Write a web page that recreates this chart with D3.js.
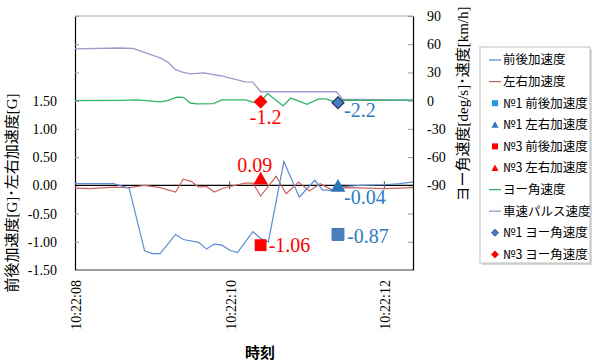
<!DOCTYPE html>
<html>
<head>
<meta charset="utf-8">
<script src="https://cdn.jsdelivr.net/npm/d3@7"></script>
<style>
  html, body { margin: 0; padding: 0; background: #ffffff; }
  svg { display: block; }
</style>
</head>
<body>
<svg id="chart" width="592" height="362"></svg>
<script>
// ---- data (time offsets are seconds after 10:22:08) ----
const startTime = "10:22:08";
const xTickLabels = ["10:22:08", "10:22:10", "10:22:12"];
const xEndSeconds = 4.37;

const leftTicks = [-1.5, -1.0, -0.5, 0.0, 0.5, 1.0, 1.5, 2.0, 2.5, 3.0];
const leftLabelMax = 1.5;
const rightTicks = [-180, -150, -120, -90, -60, -30, 0, 30, 60, 90];
const rightLabelMin = -90;

// 前後加速度 [G]
const accelLongT = [0.0, 0.5, 0.7, 0.9, 1.0, 1.1, 1.3, 1.4, 1.6, 1.7, 1.8, 1.9, 2.0, 2.1, 2.3, 2.4, 2.5, 2.7, 2.9, 3.1, 3.2, 3.3, 3.4, 3.5, 3.7, 4.0, 4.2, 4.37];
const accelLongV = [0.03, 0.03, -0.05, -1.16, -1.21, -1.21, -0.87, -0.96, -1.01, -1.13, -1.04, -1.06, -1.15, -1.19, -0.82, -0.94, -1.00, 0.42, -0.21, 0.09, -0.08, -0.09, -0.04, -0.02, 0.00, 0.01, 0.03, 0.06];

// 左右加速度 [G]
const accelLatT = [0.0, 0.2, 0.5, 0.7, 0.9, 1.1, 1.3, 1.4, 1.5, 1.6, 1.7, 1.8, 1.9, 2.0, 2.2, 2.3, 2.4, 2.6, 2.73, 2.89, 3.03, 3.17, 3.32, 3.5, 4.0, 4.37];
const accelLatV = [-0.05, -0.06, -0.03, -0.04, 0.0, -0.04, -0.12, 0.11, 0.07, -0.03, -0.02, -0.12, -0.06, -0.02, 0.04, 0.04, -0.19, 0.16, -0.15, 0.06, -0.10, 0.03, -0.08, -0.04, -0.06, -0.04];

// ヨー角速度 [deg/s]
const yawT = [0.0, 0.58, 0.8, 1.1, 1.2, 1.32, 1.4, 1.49, 1.58, 1.79, 1.9, 2.2, 2.31, 2.4, 2.49, 2.69, 2.79, 3.0, 3.15, 3.24, 3.4, 3.47, 3.95, 4.37];
const yawV = [0.0, 0.3, 0.8, -1.2, 0.0, 3.8, 3.6, -2.5, -3.4, -3.2, 0.8, 0.8, -1.8, -1.2, 7.5, -5.5, 2.8, -3.9, 1.8, 1.8, -2.2, 0.5, 0.3, 0.5];

// 車速パルス速度 [km/h]
const speedT = [0.0, 0.58, 0.75, 1.1, 1.2, 1.3, 1.38, 1.49, 1.66, 1.88, 2.2, 2.3, 2.4, 3.38, 3.46, 4.37];
const speedV = [55, 56, 55.5, 45.5, 41, 33, 30.5, 28.4, 29.5, 26.5, 20, 19.8, 9.5, 9.5, 1.5, 0.5];

// single-point measurements from units №1 and №3
const pointT = { no1: 3.4, no3: 2.4 };
const no1AccelLong = -0.87, no1AccelLat = -0.04, no1Yaw = -2.2;
const no3AccelLong = -1.06, no3AccelLat = 0.09, no3Yaw = -1.2;

const legendNames = ["前後加速度", "左右加速度", "№1 前後加速度", "№1 左右加速度", "№3 前後加速度", "№3 左右加速度", "ヨー角速度", "車速パルス速度", "№1 ヨー角速度", "№3 ヨー角速度"];

// ---- layout ----
const M = { left: 75, right: 413, top: 16, bottom: 270 };
const serif = "Liberation Serif, Times New Roman, DejaVu Serif, serif, Noto Sans CJK JP";
const gothic = "Noto Sans CJK JP, Noto Sans, sans-serif";
const C = {
  blue: "#5b8bd0", red: "#c86462", green: "#2fb468", purple: "#a596cb",
  redMark: "#ff0000", blueLabel: "#2e7bc4", blueMark: "#4a7ec0", blueTri: "#2e75b6", navy: "#203864"
};

const svg = d3.select("#chart");
const base = new Date(`2000-01-01T${startTime}`);
const toDate = s => new Date(base.getTime() + s * 1000);
const parseLabel = str => new Date(`2000-01-01T${str}`);

const x = d3.scaleTime().domain([base, toDate(xEndSeconds)]).range([M.left, M.right]);
const yL = d3.scaleLinear().domain([-1.5, 3.0]).range([M.bottom, M.top]);
const yR = d3.scaleLinear().domain([-180, 90]).range([M.bottom, M.top]);

// frame: top and bottom borders
svg.append("line").attr("x1", M.left).attr("x2", M.right).attr("y1", M.top).attr("y2", M.top)
  .attr("stroke", "#a6a6a6").attr("stroke-width", 1);
svg.append("line").attr("x1", M.left).attr("x2", M.right).attr("y1", M.bottom).attr("y2", M.bottom)
  .attr("stroke", "#404040").attr("stroke-width", 1.2);

// left axis
const fmtL = d => d <= leftLabelMax + 1e-9 ? d.toFixed(2) : "";
const gL = svg.append("g").attr("transform", `translate(${M.left},0)`)
  .call(d3.axisLeft(yL).tickValues(leftTicks).tickFormat(fmtL).tickSizeInner(-4).tickSizeOuter(0).tickPadding(18));
gL.select(".domain").attr("stroke", "#000").attr("stroke-width", 1.2);
gL.selectAll(".tick line").attr("stroke", "#9a9a9a");
gL.selectAll(".tick text").style("font-family", serif).style("font-size", "14px").attr("fill", "#000");

// right axis
const fmtR = d => d >= rightLabelMin ? String(d) : "";
const gR = svg.append("g").attr("transform", `translate(${M.right},0)`)
  .call(d3.axisRight(yR).tickValues(rightTicks).tickFormat(fmtR).tickSizeInner(-5).tickSizeOuter(0).tickPadding(14));
gR.select(".domain").attr("stroke", "#000").attr("stroke-width", 1.2);
gR.selectAll(".tick line").attr("stroke", "#9a9a9a");
gR.selectAll(".tick text").style("font-family", serif).style("font-size", "14px").attr("fill", "#000");

// time axis on the zero line
const y0 = yL(0);
svg.append("line").attr("x1", M.left).attr("x2", M.right).attr("y1", y0).attr("y2", y0)
  .attr("stroke", "#000").attr("stroke-width", 1.2);
const xTicks = xTickLabels.map(parseLabel);
svg.append("g").selectAll("line").data(xTicks.slice(1)).join("line")
  .attr("x1", d => x(d)).attr("x2", d => x(d)).attr("y1", y0 - 4).attr("y2", y0 + 4)
  .attr("stroke", "#555").attr("stroke-width", 1);
svg.append("g").selectAll("text").data(xTickLabels).join("text")
  .attr("transform", d => `translate(${x(parseLabel(d)) + 1},280) rotate(-90)`)
  .attr("text-anchor", "end").attr("dy", "0.35em")
  .style("font-family", serif).style("font-size", "14px").attr("fill", "#000")
  .text(d => d);

// series lines
const zip = (ts, vs) => ts.map((t, i) => [toDate(t), vs[i]]);
const lineL = d3.line().x(d => x(d[0])).y(d => yL(d[1]));
const lineR = d3.line().x(d => x(d[0])).y(d => yR(d[1]));

svg.append("path").datum(zip(speedT, speedV)).attr("d", lineR)
  .attr("fill", "none").attr("stroke", C.purple).attr("stroke-width", 1.3);
svg.append("path").datum(zip(yawT, yawV)).attr("d", lineR)
  .attr("fill", "none").attr("stroke", C.green).attr("stroke-width", 1.3);
svg.append("path").datum(zip(accelLatT, accelLatV)).attr("d", lineL)
  .attr("fill", "none").attr("stroke", C.red).attr("stroke-width", 1.2);
svg.append("path").datum(zip(accelLongT, accelLongV)).attr("d", lineL)
  .attr("fill", "none").attr("stroke", C.blue).attr("stroke-width", 1.2);

// markers
const sym = (type, size) => d3.symbol().type(type).size(size)();
function marker(type, size, t, yv, fill, stroke) {
  svg.append("path").attr("d", sym(type, size))
    .attr("transform", `translate(${x(toDate(t))},${yv})`)
    .attr("fill", fill).attr("stroke", stroke || "none").attr("stroke-width", stroke ? 1 : 0);
}
function diamond(t, yv, fill, stroke, half) {
  const cx = x(toDate(t));
  svg.append("path").attr("d", `M${cx},${yv - half}L${cx + half},${yv}L${cx},${yv + half}L${cx - half},${yv}Z`)
    .attr("fill", fill).attr("stroke", stroke).attr("stroke-width", 1.2);
}
// №3
diamond(pointT.no3, yR(no3Yaw), C.redMark, C.redMark, 6);
marker(d3.symbolTriangle, 95, pointT.no3, yL(no3AccelLat), C.redMark);
marker(d3.symbolSquare, 140, pointT.no3, yL(no3AccelLong), C.redMark);
// №1
diamond(pointT.no1, yR(no1Yaw), C.blueMark, C.navy, 6);
marker(d3.symbolTriangle, 95, pointT.no1, yL(no1AccelLat), C.blueTri);
marker(d3.symbolSquare, 140, pointT.no1, yL(no1AccelLong), C.blueMark, "#3b6fb0");

// value labels
function vlabel(t, dx, yBase, text, color, anchor) {
  svg.append("text").attr("x", x(toDate(t)) + dx).attr("y", yBase)
    .attr("text-anchor", anchor).style("font-family", serif).style("font-size", "20px").attr("fill", color)
    .text(text);
}
vlabel(pointT.no3, 5, yR(no3Yaw) + 22, String(no3Yaw), C.redMark, "middle");
vlabel(pointT.no3, -6, yL(no3AccelLat) - 8, no3AccelLat.toFixed(2), C.redMark, "middle");
vlabel(pointT.no3, 8, yL(no3AccelLong) + 7, no3AccelLong.toFixed(2), C.redMark, "start");
vlabel(pointT.no1, 6, yR(no1Yaw) + 14, String(no1Yaw), C.blueLabel, "start");
vlabel(pointT.no1, 6, yL(no1AccelLat) + 16, no1AccelLat.toFixed(2), C.blueLabel, "start");
vlabel(pointT.no1, 9, yL(no1AccelLong) + 9, no1AccelLong.toFixed(2), C.blueLabel, "start");

// axis titles
svg.append("text").attr("transform", `translate(12,${(M.top + M.bottom) / 2 + 50}) rotate(-90)`)
  .attr("text-anchor", "middle").style("font-family", serif).style("font-size", "15px").attr("fill", "#000")
  .attr("dy", "0.35em").text("前後加速度[G]･左右加速度[G]");
svg.append("text").attr("transform", `translate(463,104) rotate(-90)`)
  .attr("text-anchor", "middle").style("font-family", serif).style("font-size", "15px").attr("fill", "#000")
  .attr("dy", "0.35em").text("ヨー角速度[deg/s]･速度[km/h]");
svg.append("text").attr("x", 260).attr("y", 358).attr("text-anchor", "middle")
  .style("font-family", gothic).style("font-size", "15px").attr("font-weight", 700).attr("fill", "#000").text("時刻");

// legend
const lg = svg.append("g");
lg.append("rect").attr("x", 482).attr("y", 49).attr("width", 110).attr("height", 216).attr("fill", "#d9d9d9");
lg.append("rect").attr("x", 480).attr("y", 47).attr("width", 110).attr("height", 216)
  .attr("fill", "#fff").attr("stroke", "#bfbfbf");
const rowY = i => 60 + i * 21.6;
const legendKeys = [
  { kind: "line", color: C.blue }, { kind: "line", color: C.red },
  { kind: "square", color: "#1f9bde" }, { kind: "tri", color: C.blueTri },
  { kind: "square", color: C.redMark }, { kind: "tri", color: C.redMark },
  { kind: "line", color: C.green }, { kind: "line", color: C.purple },
  { kind: "diamond", color: C.blueMark, stroke: C.navy }, { kind: "diamond", color: C.redMark, stroke: C.redMark }
];
legendKeys.forEach((k, i) => {
  const cy = rowY(i), cx = 495;
  if (k.kind === "line") {
    lg.append("line").attr("x1", 489).attr("x2", 501).attr("y1", cy).attr("y2", cy)
      .attr("stroke", k.color).attr("stroke-width", 1.3);
  } else if (k.kind === "square") {
    lg.append("rect").attr("x", cx - 3).attr("y", cy - 3).attr("width", 6).attr("height", 6).attr("fill", k.color);
  } else if (k.kind === "tri") {
    lg.append("path").attr("d", `M${cx},${cy - 3.5}L${cx + 3.5},${cy + 3}L${cx - 3.5},${cy + 3}Z`).attr("fill", k.color);
  } else {
    lg.append("path").attr("d", `M${cx},${cy - 3.5}L${cx + 3.5},${cy}L${cx},${cy + 3.5}L${cx - 3.5},${cy}Z`)
      .attr("fill", k.color).attr("stroke", k.stroke).attr("stroke-width", 0.8);
  }
  lg.append("text").attr("x", 503).attr("y", cy).attr("dy", "0.35em")
    .style("font-family", gothic).style("font-size", "12.5px").attr("fill", "#000").text(legendNames[i]);
});
</script>
</body>
</html>
